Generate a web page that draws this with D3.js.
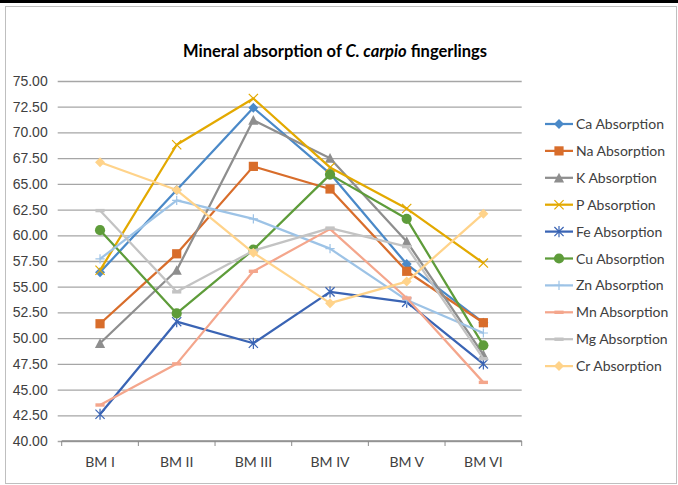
<!DOCTYPE html>
<html>
<head>
<meta charset="utf-8">
<script src="https://cdn.jsdelivr.net/npm/d3@7"></script>
<style>
  body { margin: 0; background: #fff; }
  svg { display: block; font-family: Lato, "Open Sans", sans-serif; }
</style>
</head>
<body>
<div class="chart"></div>
<script>
var svgWidth = 678;
var svgHeight = 485;

// data
var categories = ["BM I", "BM II", "BM III", "BM IV", "BM V", "BM VI"];
var seriesNames = ["Ca Absorption", "Na Absorption", "K Absorption", "P Absorption", "Fe Absorption",
  "Cu Absorption", "Zn Absorption", "Mn Absorption", "Mg Absorption", "Cr Absorption"];
var caValues = [56.4, 64.4, 72.4, 66.0, 57.2, 51.5];
var naValues = [51.4, 58.2, 66.7, 64.5, 56.5, 51.5];
var kValues  = [49.5, 56.6, 71.2, 67.5, 59.4, 48.4];
var pValues  = [56.6, 68.8, 73.3, 66.6, 62.6, 57.3];
var feValues = [42.6, 51.6, 49.5, 54.5, 53.5, 47.5];
var cuValues = [60.5, 52.4, 58.6, 65.9, 61.6, 49.3];
var znValues = [57.7, 63.4, 61.6, 58.7, 53.7, 50.5];
var mnValues = [43.5, 47.5, 56.5, 60.6, 53.9, 45.7];
var mgValues = [62.4, 54.5, 58.5, 60.7, 58.9, 48.0];
var crValues = [67.1, 64.4, 58.3, 53.4, 55.5, 62.1];
var yTicks = d3.range(40, 75.01, 2.5);

var allValues = [caValues, naValues, kValues, pValues, feValues, cuValues, znValues, mnValues, mgValues, crValues];
var colors = ["#4a89c8", "#d86d2b", "#8e8e8e", "#e3a900", "#3a64b4", "#5e9c3a", "#9dc3e6", "#f4a68c", "#c3c3c3", "#ffd38a"];
var markers = ["diamond", "square", "triangle", "x", "asterisk", "circle", "plus", "dash", "dash", "diamond"];

var margin = {top: 81, left: 61.7, right: 521.7, bottom: 441};

var svg = d3.select(".chart")
  .append("svg")
  .attr("width", svgWidth)
  .attr("height", svgHeight);

// frame
svg.append("rect")
  .attr("x", 5.5).attr("y", 6.5)
  .attr("width", 671).attr("height", 477)
  .attr("fill", "none")
  .attr("stroke", "#bfbfbf");
svg.append("line")
  .attr("x1", 0).attr("x2", svgWidth)
  .attr("y1", 1.5).attr("y2", 1.5)
  .attr("stroke", "#000").attr("stroke-width", 3);

var x = d3.scaleBand()
  .domain(categories)
  .range([margin.left, margin.right])
  .padding(0);
var xc = d => x(d) + x.bandwidth() / 2;

var y = d3.scaleLinear()
  .domain([40, 75])
  .range([margin.bottom, margin.top]);

// gridlines + y labels
var leftAxis = d3.axisLeft(y)
  .tickValues(yTicks)
  .tickSize(-(margin.right - margin.left) - 4)
  .tickPadding(10)
  .tickFormat(d3.format(".2f"));

var yAxisG = svg.append("g")
  .attr("transform", `translate(${margin.left - 4},0)`)
  .call(leftAxis);
yAxisG.select(".domain").remove();
yAxisG.selectAll(".tick line")
  .attr("stroke", "#a6a6a6")
  .attr("stroke-width", 1.3);
yAxisG.selectAll(".tick text")
  .attr("fill", "#404040")
  .attr("font-size", 14)
  .attr("x", -10);

// x axis with ticks between categories
svg.append("line")
  .attr("x1", margin.left).attr("x2", margin.right)
  .attr("y1", margin.bottom).attr("y2", margin.bottom)
  .attr("stroke", "#8c8c8c").attr("stroke-width", 1.3);
var bounds = categories.map(c => x(c)).concat([margin.right]);
svg.selectAll(".xtick")
  .data(bounds)
  .enter().append("line")
  .attr("x1", d => d).attr("x2", d => d)
  .attr("y1", margin.bottom).attr("y2", margin.bottom + 5)
  .attr("stroke", "#8c8c8c");
svg.selectAll(".xlabel")
  .data(categories)
  .enter().append("text")
  .attr("x", d => xc(d))
  .attr("y", margin.bottom + 26)
  .attr("text-anchor", "middle")
  .attr("font-size", 14)
  .attr("fill", "#404040")
  .text(d => d);

// title
var title = svg.append("text")
  .attr("x", 335).attr("y", 57)
  .attr("text-anchor", "middle")
  .attr("font-size", 16.5)
  .attr("font-weight", "bold")
  .attr("fill", "#000");
title.append("tspan").text("Mineral absorption of ");
title.append("tspan").attr("font-style", "italic").text("C. carpio");
title.append("tspan").text(" fingerlings");

function drawMarker(g, type, color) {
  var s = 4.6;
  if (type === "diamond") {
    g.append("path").attr("d", `M0,${-s - 0.4}L${s + 0.4},0L0,${s + 0.4}L${-s - 0.4},0Z`).attr("fill", color);
  } else if (type === "square") {
    g.append("rect").attr("x", -s).attr("y", -s).attr("width", 2 * s).attr("height", 2 * s).attr("fill", color);
  } else if (type === "triangle") {
    g.append("path").attr("d", `M0,${-s - 0.5}L${s + 0.5},${s}L${-s - 0.5},${s}Z`).attr("fill", color);
  } else if (type === "circle") {
    g.append("circle").attr("r", s + 0.5).attr("fill", color);
  } else if (type === "x") {
    g.append("path").attr("d", `M${-s},${-s}L${s},${s}M${-s},${s}L${s},${-s}`).attr("stroke", color).attr("stroke-width", 1.2);
  } else if (type === "asterisk") {
    g.append("path").attr("d", `M${-s},${-s}L${s},${s}M${-s},${s}L${s},${-s}M0,${-s - 1}L0,${s + 1}`).attr("stroke", color).attr("stroke-width", 1.2);
  } else if (type === "plus") {
    g.append("path").attr("d", `M${-s},0L${s},0M0,${-s}L0,${s}`).attr("stroke", color).attr("stroke-width", 1.2);
  } else if (type === "dash") {
    g.append("rect").attr("x", -s).attr("y", -1.7).attr("width", 2 * s).attr("height", 3.4).attr("fill", color);
  }
}

var line = d3.line()
  .x((d, i) => xc(categories[i]))
  .y(d => y(d));

allValues.forEach(function(vals, k) {
  var g = svg.append("g");
  g.append("path")
    .datum(vals)
    .attr("d", line)
    .attr("fill", "none")
    .attr("stroke", colors[k])
    .attr("stroke-width", 2.25)
    .attr("stroke-linejoin", "round");
  g.selectAll(".m")
    .data(vals)
    .enter().append("g")
    .attr("transform", (d, i) => `translate(${xc(categories[i])},${y(d)})`)
    .each(function() { drawMarker(d3.select(this), markers[k], colors[k]); });
});

// legend
var legend = svg.append("g");
seriesNames.forEach(function(name, k) {
  var ly = 124 + k * 26.9;
  legend.append("line")
    .attr("x1", 545).attr("x2", 573)
    .attr("y1", ly).attr("y2", ly)
    .attr("stroke", colors[k]).attr("stroke-width", 2.25);
  var mg = legend.append("g").attr("transform", `translate(559,${ly})`);
  drawMarker(mg, markers[k], colors[k]);
  legend.append("text")
    .attr("x", 576).attr("y", ly + 5)
    .attr("font-size", 14)
    .attr("fill", "#404040")
    .text(name);
});
</script>
</body>
</html>
